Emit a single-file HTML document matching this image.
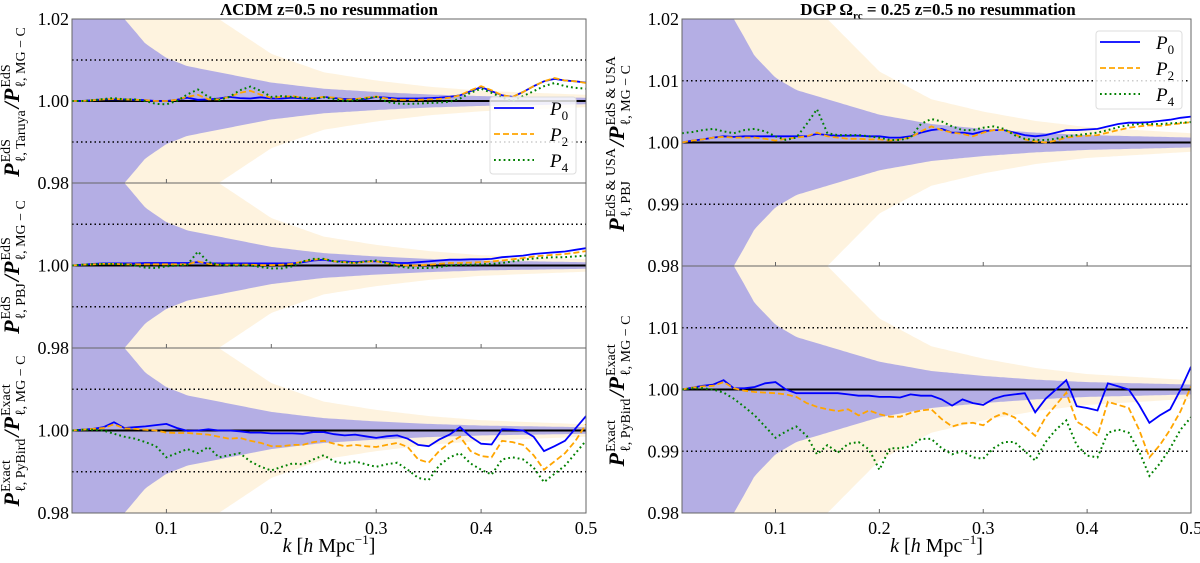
<!DOCTYPE html>
<html><head><meta charset="utf-8">
<style>
html,body{margin:0;padding:0;background:#fff;overflow:hidden;width:1200px;height:563px;}
svg{display:block;font-family:"Liberation Serif","DejaVu Serif",serif;}
svg text{font-family:"Liberation Serif","DejaVu Serif",serif;}
</style></head>
<body>
<svg id="fig" width="1200" height="563" viewBox="0 0 1200 563" xmlns="http://www.w3.org/2000/svg">
<text x="329" y="15" text-anchor="middle" font-size="17" font-weight="bold" font-family="Liberation Serif, serif">ΛCDM z=0.5 no resummation</text>
<text x="938" y="15" text-anchor="middle" font-size="17" font-weight="bold" font-family="Liberation Serif, serif">DGP Ω<tspan font-size="11" dy="4">rc</tspan><tspan dy="-4"> = 0.25 z=0.5 no resummation</tspan></text>
</svg>
<script>
// ---- data ----
const kValues=[0.01,0.02,0.03,0.04,0.05,0.06,0.07,0.08,0.09,0.10,0.11,0.12,0.13,0.14,0.15,0.16,0.17,0.18,0.19,0.20,0.21,0.22,0.23,0.24,0.25,0.26,0.27,0.28,0.29,0.30,0.31,0.32,0.33,0.34,0.35,0.36,0.37,0.38,0.39,0.40,0.41,0.42,0.43,0.44,0.45,0.46,0.47,0.48,0.49,0.50];
const bandK=[0.01,0.06,0.08,0.10,0.12,0.15,0.20,0.25,0.30,0.35,0.40,0.45,0.50];
const purpleHalfWidth=[0.03,0.02,0.014,0.0105,0.0085,0.007,0.0045,0.003,0.0022,0.0016,0.0012,0.001,0.0008];
const creamHalfWidth=[0.05,0.03,0.026,0.024,0.022,0.02,0.0115,0.007,0.005,0.0035,0.0025,0.002,0.0015];

const taruyaP0=[1.0000,1.0000,1.0002,1.0004,1.0004,1.0004,1.0003,1.0002,1.0000,1.0000,1.0003,1.0008,1.0003,1.0004,1.0006,1.0010,1.0007,1.0006,1.0009,1.0006,1.0006,1.0008,1.0006,1.0005,1.0010,1.0007,1.0005,1.0005,1.0005,1.0010,1.0008,1.0006,1.0006,1.0006,1.0007,1.0008,1.0010,1.0014,1.0024,1.0034,1.0024,1.0014,1.0010,1.0022,1.0036,1.0048,1.0054,1.0050,1.0048,1.0045];
const taruyaP2=[1.0000,1.0000,1.0002,1.0004,1.0005,1.0004,1.0003,1.0002,1.0000,1.0000,1.0003,1.0010,1.0015,1.0004,1.0004,1.0010,1.0020,1.0025,1.0015,1.0008,1.0010,1.0012,1.0008,1.0007,1.0010,1.0008,1.0003,1.0005,1.0008,1.0011,1.0006,1.0003,1.0003,1.0003,1.0004,1.0005,1.0008,1.0014,1.0026,1.0036,1.0026,1.0014,1.0010,1.0022,1.0036,1.0048,1.0056,1.0050,1.0048,1.0044];
const taruyaP4=[1.0000,1.0000,1.0002,1.0005,1.0007,1.0004,1.0004,1.0000,0.9993,0.9992,1.0000,1.0016,1.0028,1.0010,1.0002,1.0010,1.0026,1.0035,1.0025,1.0010,1.0012,1.0010,1.0008,1.0005,1.0009,1.0005,1.0000,1.0002,1.0006,1.0010,0.9998,0.9994,0.9993,0.9994,0.9995,0.9996,0.9998,1.0006,1.0020,1.0030,1.0020,1.0008,1.0000,1.0012,1.0024,1.0036,1.0044,1.0036,1.0032,1.0030];

const pbjP0=[1.0000,1.0002,1.0004,1.0005,1.0005,1.0005,1.0005,1.0006,1.0006,1.0006,1.0006,1.0006,1.0008,1.0005,1.0005,1.0005,1.0005,1.0005,1.0005,1.0005,1.0005,1.0005,1.0008,1.0012,1.0014,1.0010,1.0010,1.0008,1.0010,1.0010,1.0008,1.0006,1.0006,1.0008,1.0010,1.0012,1.0014,1.0014,1.0015,1.0015,1.0016,1.0020,1.0022,1.0024,1.0028,1.0030,1.0032,1.0034,1.0038,1.0042];
const pbjP2=[1.0000,1.0002,1.0003,1.0004,1.0004,1.0003,1.0003,1.0003,1.0003,1.0003,1.0003,1.0003,1.0010,1.0004,1.0002,1.0002,1.0002,1.0002,1.0001,1.0001,1.0002,1.0004,1.0010,1.0014,1.0016,1.0010,1.0008,1.0006,1.0009,1.0010,1.0006,1.0002,1.0000,1.0000,1.0002,1.0004,1.0006,1.0006,1.0007,1.0008,1.0010,1.0012,1.0015,1.0018,1.0022,1.0024,1.0026,1.0028,1.0031,1.0035];
const pbjP4=[1.0000,1.0002,1.0003,1.0004,1.0004,1.0003,1.0000,0.9995,0.9994,0.9998,1.0000,1.0002,1.0034,1.0008,1.0002,1.0000,1.0000,1.0000,0.9996,0.9993,0.9993,0.9998,1.0010,1.0016,1.0016,1.0010,1.0008,1.0006,1.0010,1.0012,1.0006,0.9998,0.9995,0.9994,0.9994,0.9996,1.0000,1.0002,1.0002,1.0003,1.0004,1.0006,1.0010,1.0014,1.0017,1.0019,1.0020,1.0020,1.0022,1.0024];

const pybirdP0=[1.0000,1.0002,1.0004,1.0008,1.0020,1.0006,1.0008,1.0010,1.0013,1.0016,1.0006,0.9999,1.0000,1.0003,1.0000,1.0000,0.9998,0.9995,0.9995,0.9993,0.9993,0.9993,0.9992,0.9996,0.9996,0.9991,0.9988,0.9990,0.9986,0.9982,0.9986,0.9988,0.9980,0.9965,0.9962,0.9978,0.9990,1.0008,0.9985,0.9968,0.9966,1.0003,1.0002,1.0000,0.9985,0.9950,0.9962,0.9975,1.0005,1.0035];
const pybirdP2=[1.0000,1.0002,1.0004,1.0006,1.0015,1.0005,1.0004,1.0002,1.0000,0.9995,0.9994,0.9994,0.9992,0.9990,0.9985,0.9980,0.9982,0.9975,0.9970,0.9962,0.9962,0.9965,0.9965,0.9972,0.9975,0.9968,0.9962,0.9965,0.9962,0.9960,0.9965,0.9970,0.9960,0.9930,0.9922,0.9950,0.9970,0.9985,0.9950,0.9938,0.9935,0.9975,0.9972,0.9965,0.9940,0.9905,0.9925,0.9945,0.9975,1.0015];
const pybirdP4=[1.0000,1.0002,1.0002,1.0000,0.9992,0.9985,0.9980,0.9972,0.9962,0.9935,0.9945,0.9955,0.9945,0.9960,0.9935,0.9940,0.9945,0.9925,0.9912,0.9903,0.9912,0.9920,0.9918,0.9930,0.9940,0.9925,0.9920,0.9925,0.9918,0.9912,0.9918,0.9922,0.9905,0.9885,0.9880,0.9915,0.9935,0.9945,0.9920,0.9905,0.9893,0.9930,0.9935,0.9930,0.9910,0.9875,0.9895,0.9915,0.9945,0.9975];

const dgpPbjP0=[1.0000,1.0003,1.0005,1.0008,1.0010,1.0009,1.0010,1.0010,1.0010,1.0010,1.0010,1.0010,1.0010,1.0014,1.0012,1.0011,1.0011,1.0011,1.0010,1.0010,1.0008,1.0008,1.0010,1.0016,1.0020,1.0022,1.0016,1.0016,1.0014,1.0018,1.0020,1.0020,1.0016,1.0012,1.0010,1.0012,1.0016,1.0020,1.0020,1.0021,1.0022,1.0026,1.0030,1.0032,1.0032,1.0033,1.0035,1.0037,1.0040,1.0042];
const dgpPbjP2=[1.0000,1.0003,1.0005,1.0008,1.0009,1.0008,1.0008,1.0008,1.0006,1.0003,1.0006,1.0008,1.0010,1.0016,1.0010,1.0008,1.0006,1.0006,1.0005,1.0005,1.0003,1.0005,1.0008,1.0018,1.0026,1.0020,1.0016,1.0014,1.0010,1.0016,1.0020,1.0020,1.0014,1.0005,1.0002,1.0000,1.0003,1.0008,1.0010,1.0011,1.0012,1.0016,1.0020,1.0024,1.0026,1.0028,1.0027,1.0029,1.0031,1.0033];
const dgpPbjP4=[1.0015,1.0017,1.0020,1.0022,1.0018,1.0015,1.0020,1.0022,1.0018,1.0010,1.0004,1.0008,1.0030,1.0054,1.0015,1.0012,1.0012,1.0012,1.0010,1.0008,1.0004,1.0004,1.0008,1.0030,1.0038,1.0034,1.0026,1.0020,1.0020,1.0024,1.0026,1.0022,1.0012,1.0006,1.0004,1.0004,1.0006,1.0010,1.0012,1.0014,1.0016,1.0020,1.0025,1.0028,1.0030,1.0030,1.0030,1.0031,1.0032,1.0033];

const dgpPybirdP0=[1.0000,1.0003,1.0006,1.0008,1.0015,1.0002,1.0002,1.0004,1.0010,1.0012,1.0000,0.9994,0.9994,0.9994,0.9994,0.9994,0.9992,0.9990,0.9990,0.9988,0.9988,0.9987,0.9992,0.9990,0.9990,0.9984,0.9974,0.9984,0.9978,0.9975,0.9985,0.9990,0.9992,0.9994,0.9963,0.9985,1.0000,1.0015,0.9973,0.9970,0.9966,1.0010,1.0005,1.0000,0.9975,0.9946,0.9958,0.9968,1.0000,1.0037];
const dgpPybirdP2=[1.0000,1.0003,1.0005,1.0006,1.0012,1.0002,0.9998,0.9996,0.9995,0.9994,0.9992,0.9988,0.9978,0.9972,0.9968,0.9965,0.9968,0.9958,0.9966,0.9960,0.9956,0.9956,0.9962,0.9966,0.9968,0.9952,0.9940,0.9945,0.9946,0.9942,0.9955,0.9962,0.9955,0.9940,0.9925,0.9955,0.9975,0.9995,0.9948,0.9938,0.9925,0.9980,0.9975,0.9970,0.9935,0.9890,0.9910,0.9935,0.9965,1.0005];
const dgpPybirdP4=[1.0000,1.0002,1.0002,1.0000,0.9995,0.9985,0.9972,0.9958,0.9940,0.9922,0.9932,0.9940,0.9925,0.9895,0.9910,0.9898,0.9912,0.9915,0.9903,0.9870,0.9905,0.9905,0.9908,0.9920,0.9920,0.9905,0.9895,0.9900,0.9890,0.9888,0.9905,0.9915,0.9915,0.9900,0.9885,0.9915,0.9935,0.9950,0.9910,0.9893,0.9890,0.9930,0.9935,0.9930,0.9900,0.9860,0.9880,0.9905,0.9935,0.9955];

const xTickValues=[0.1,0.2,0.3,0.4,0.5];
const xTickLabels=["0.1","0.2","0.3","0.4","0.5"];

// ---- drawing ----
const NS="http://www.w3.org/2000/svg";
const FONT='Liberation Serif, DejaVu Serif, serif';
const svg=document.getElementById('fig');
function mk(tag,attrs,parent){const e=document.createElementNS(NS,tag);for(const k in attrs)e.setAttribute(k,attrs[k]);if(tag==='text')e.setAttribute('font-family',FONT);(parent||svg).appendChild(e);return e;}
function interp(xs,ys,x){if(x<=xs[0])return ys[0];for(let i=1;i<xs.length;i++){if(x<=xs[i]){const t=(x-xs[i-1])/(xs[i]-xs[i-1]);return ys[i-1]+t*(ys[i]-ys[i-1]);}}return ys[ys.length-1];}

const panels=[
 {name:'taruya',x0:72,x1:586,y0:19,y1:183,yt:[1.02,1.00,0.98],s:[taruyaP0,taruyaP2,taruyaP4],xl:false,legend:{x:490,y:97,w:86,h:77}},
 {name:'pbj',x0:72,x1:586,y0:183,y1:348,yt:[1.00,0.98],s:[pbjP0,pbjP2,pbjP4],xl:false},
 {name:'pybird',x0:72,x1:586,y0:348,y1:513,yt:[1.00,0.98],s:[pybirdP0,pybirdP2,pybirdP4],xl:true},
 {name:'dgp-pbj',x0:682,x1:1191,y0:19,y1:266,yt:[1.02,1.01,1.00,0.99,0.98],s:[dgpPbjP0,dgpPbjP2,dgpPbjP4],xl:false,legend:{x:1096,y:31,w:86,h:78}},
 {name:'dgp-pybird',x0:682,x1:1191,y0:266,y1:513,yt:[1.01,1.00,0.99,0.98],s:[dgpPybirdP0,dgpPybirdP2,dgpPybirdP4],xl:true}
];
const styles=[{c:'#0000ff',d:'',w:1.8,n:'P0'},{c:'#ffa500',d:'6,3',w:1.8,n:'P2'},{c:'#008000',d:'1.8,3',w:2,n:'P4'}];

panels.forEach(p=>{
 const X=k=>p.x0+(k-0.01)/(0.5-0.01)*(p.x1-p.x0);
 const Y=v=>p.y1-(v-0.98)/0.04*(p.y1-p.y0);
 const g=mk('g',{});
 
 
 const cid='clip-'+p.name;
 const cp=mk('clipPath',{id:cid},g);mk('rect',{x:p.x0,y:p.y0,width:p.x1-p.x0,height:p.y1-p.y0},cp);
 const inner=mk('g',{'clip-path':'url(#'+cid+')'},g);
 [[creamHalfWidth,'#fef3df','cream-band'],[purpleHalfWidth,'#b4aee4','purple-band']].forEach(([hw,col,nm])=>{
   let up=[],lo=[];
   for(let i=0;i<=200;i++){const k=0.005+i*(0.5-0.005)/200;const h=interp(bandK,hw,k);up.push(X(k).toFixed(1)+','+Y(1+h).toFixed(1));lo.unshift(X(k).toFixed(1)+','+Y(1-h).toFixed(1));}
   const b=mk('polygon',{points:up.concat(lo).join(' '),fill:col},inner);
   
   
 });
 [1.01,0.99].forEach(v=>{const l=mk('line',{x1:p.x0,x2:p.x1,y1:Y(v),y2:Y(v),stroke:'#000','stroke-width':1.5,'stroke-dasharray':'1.5,3'},inner);
   
   });
 const ref=mk('line',{x1:p.x0,x2:p.x1,y1:Y(1),y2:Y(1),stroke:'#000','stroke-width':2},inner);
 
 
 p.s.forEach((arr,si)=>{
   const st=styles[si];
   const pts=arr.map((v,i)=>X(kValues[i]).toFixed(1)+','+Y(v).toFixed(1)).join(' ');
   const l=mk('polyline',{points:pts,fill:'none',stroke:st.c,'stroke-width':st.w,'stroke-dasharray':st.d},inner);
   
   
 });
 const fr=mk('rect',{x:p.x0,y:p.y0,width:p.x1-p.x0,height:p.y1-p.y0,fill:'none',stroke:'#666','stroke-width':1},g);
 
 
 xTickValues.forEach((t,i)=>{
   mk('line',{x1:X(t),x2:X(t),y1:p.y1,y2:p.y1-4,stroke:'#666','stroke-width':1},g);
   if(p.xl){const tl=mk('text',{x:X(t),y:p.y1+21,'text-anchor':'middle','font-size':18},g);tl.textContent=xTickLabels[i];
     
     }
 });
 p.yt.forEach(v=>{const tl=mk('text',{x:p.x0-3,y:Y(v)+6,'text-anchor':'end','font-size':18},g);tl.textContent=v.toFixed(2);
   
   });
 if(p.xl){const xl=mk('text',{x:(p.x0+p.x1)/2,y:p.y1+39,'text-anchor':'middle','font-size':20},g);
   xl.innerHTML='<tspan font-style="italic">k</tspan> [<tspan font-style="italic">h</tspan> Mpc<tspan font-size="13" dy="-8">−1</tspan><tspan dy="8">]</tspan>';
   
   }
 if(p.legend){const L=p.legend;
   const lg=mk('g',{},g);
   
   
   mk('rect',{x:L.x,y:L.y,width:L.w,height:L.h,rx:3,fill:'#fff','fill-opacity':0.8,stroke:'#ddd'},lg);
   styles.forEach((st,i)=>{const yy=L.y+11+i*26;
     mk('line',{x1:L.x+4,x2:L.x+44,y1:yy,y2:yy,stroke:st.c,'stroke-width':st.w,'stroke-dasharray':st.d},lg);
     const t=mk('text',{x:L.x+60,y:yy+7,'font-size':19,'font-style':'italic'},lg);
     t.innerHTML='P<tspan font-size="13" font-style="normal" dy="5">'+st.n.slice(1)+'</tspan>';
     
     });
 }
});

function yLabel(name,bx,cy,parts){
 const g=mk('g',{});
 
 
 const inner=mk('g',{},g);
 let x=0;
 parts.forEach(pt=>{
   const P=mk('text',{x:x,y:0,'font-size':22,'font-weight':'bold','font-style':'italic'},inner);P.textContent=pt.t;
   x+=P.getComputedTextLength()+1;
   const su=mk('text',{x:x,y:-9,'font-size':14},inner);su.textContent=pt.sup;
   const sb=mk('text',{x:x,y:6,'font-size':14},inner);sb.textContent=pt.sub;
   x+=Math.max(su.getComputedTextLength(),sb.getComputedTextLength())+2;
 });
 inner.setAttribute('transform','translate('+bx+','+cy+') rotate(-90) translate('+(-x/2)+',0)');
}
yLabel('y-axis-title-taruya',19,101,[{t:'P',sup:'EdS',sub:'ℓ, Taruya'},{t:'/P',sup:'EdS',sub:'ℓ, MG − C'}]);
yLabel('y-axis-title-pbj',19,266,[{t:'P',sup:'EdS',sub:'ℓ, PBJ'},{t:'/P',sup:'EdS',sub:'ℓ, MG − C'}]);
yLabel('y-axis-title-pybird',19,430,[{t:'P',sup:'Exact',sub:'ℓ, PyBird'},{t:'/P',sup:'Exact',sub:'ℓ, MG − C'}]);
yLabel('y-axis-title-dgp-pbj',624,143,[{t:'P',sup:'EdS & USA',sub:'ℓ, PBJ'},{t:'/P',sup:'EdS & USA',sub:'ℓ, MG − C'}]);
yLabel('y-axis-title-dgp-pybird',624,390,[{t:'P',sup:'Exact',sub:'ℓ, PyBird'},{t:'/P',sup:'Exact',sub:'ℓ, MG − C'}]);
</script>
</body></html>
